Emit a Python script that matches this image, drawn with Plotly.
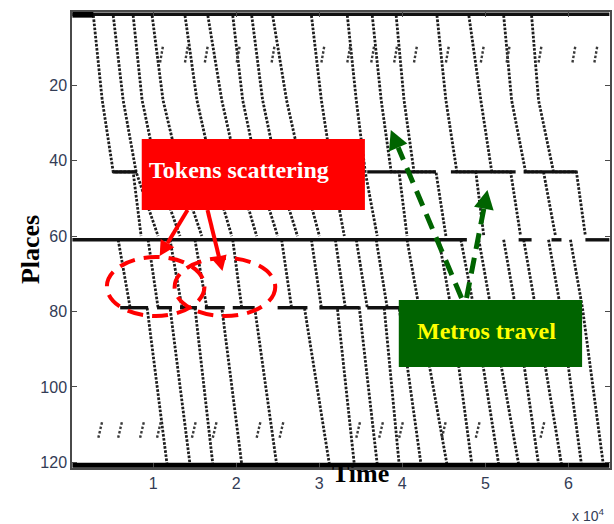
import plotly.graph_objects as go

# Time axis is in units of 10^4 (as printed by the "x 10^4" multiplier)

# Trains on the first line section: places 1 -> 60, dwell at station place 43
up_places = [1.5, 24, 43, 43, 60]
up_times = [
    [0.281, 0.388, 0.520, 0.760, 0.856],
    [0.520, 0.640, 0.796, 0.796, 1.060],
    [0.760, 0.868, 1.048, 1.048, 1.324],
    [0.988, 1.120, 1.324, 1.324, 1.587],
    [1.384, 1.528, 1.719, 1.719, 1.947],
    [1.659, 1.827, 2.019, 2.019, 2.247],
    [1.959, 2.079, 2.259, 2.259, 2.499],
    [2.187, 2.319, 2.499, 2.499, 2.738],
    [2.439, 2.607, 2.798, 2.798, 3.002],
    [2.906, 3.026, 3.158, 3.158, 3.302],
    [3.338, 3.446, 3.554, 3.554, 3.698],
    [3.638, 3.746, 3.866, 3.961, 4.057],
    [3.926, 4.021, 4.141, 4.405, 4.525],
    [4.417, 4.525, 4.657, 4.885, 4.981],
    [4.801, 4.945, 5.077, 5.304, 5.424],
    [5.220, 5.316, 5.484, 5.700, 5.844],
    [5.556, 5.640, 5.820, 6.096, 6.204],
]

# Trains on the second line section: places 61 -> 120, dwell at station place 79
down_places = [61, 79, 79, 120.5]
down_times = [
    [0.580, 0.724, 0.928, 1.168],
    [0.940, 1.060, 1.204, 1.444],
    [1.204, 1.348, 1.504, 1.719],
    [1.504, 1.647, 1.827, 2.067],
    [1.959, 2.067, 2.223, 2.487],
    [2.547, 2.667, 2.822, 3.122],
    [2.906, 3.026, 3.218, 3.422],
    [3.194, 3.314, 3.482, 3.698],
    [3.446, 3.578, 3.782, 3.962],
    [3.686, 3.818, 3.962, 4.225],
    [4.057, 4.201, 4.201, 4.537],
    [4.441, 4.585, 4.585, 4.837],
    [4.705, 4.861, 4.861, 5.160],
    [4.921, 5.065, 5.065, 5.400],
    [5.220, 5.364, 5.364, 5.640],
    [5.461, 5.604, 5.604, 5.916],
    [5.760, 5.904, 5.904, 6.156],
    [6.024, 6.168, 6.168, 6.419],
]

# Token queues held in a place over an interval: (place, start, end)
queues = [
    (43, 0.520, 0.808), (43, 3.578, 4.405), (43, 4.585, 5.364), (43, 5.460, 6.096),
    (79, 0.604, 0.940), (79, 1.048, 1.228), (79, 1.324, 1.528), (79, 1.623, 1.863),
    (79, 1.959, 2.223), (79, 2.499, 2.858), (79, 3.002, 3.482), (79, 3.578, 3.961),
    (61, 0.029, 4.777), (61, 5.400, 5.556), (61, 5.796, 5.916), (61, 6.204, 6.492),
    (1.2, 0.029, 6.492),
]
depot_start = (1.3, 0.029, 0.281)
depot_end = (120.8, 0.029, 6.492)

# Short token bursts near places 9-14 and 109-114
top_burst_low = [1.084, 1.384, 1.623, 2.007, 2.427, 3.026, 3.338, 3.626, 3.902,
                 4.141, 4.525, 4.945, 5.256, 5.640, 6.048, 6.312]
top_burst_high = [1.120, 1.420, 1.659, 2.043, 2.463, 3.062, 3.374, 3.662, 3.938,
                  4.177, 4.561, 4.981, 5.292, 5.676, 6.084, 6.348]
top_burst_places = [14, 9.5]
bot_burst_low = [0.341, 0.580, 0.844, 1.048, 1.468, 1.719, 2.247, 2.523, 3.446,
                 3.722, 3.962, 4.477, 4.885, 5.664]
bot_burst_high = [0.389, 0.628, 0.892, 1.096, 1.516, 1.767, 2.295, 2.571, 3.494,
                  3.770, 4.010, 4.525, 4.933, 5.712]
bot_burst_places = [113.5, 109]

x_ticks = [1, 2, 3, 4, 5, 6]
y_ticks = [20, 40, 60, 80, 100, 120]

INK = "#1e1e1e"
TICK_COLOR = "#333c55"
SERIF = "Liberation Serif, Times New Roman, serif"
SANS = "Liberation Sans, Arial, sans-serif"
RED = "#ff0000"
GREEN = "#006400"

# plot area in pixels (left, top, right, bottom) for placing the callouts
AREA = (72, 12, 612, 468)


def to_paper(x, y):
    return ((x - AREA[0]) / (AREA[2] - AREA[0]), (AREA[3] - y) / (AREA[3] - AREA[1]))


def join_paths(paths_x, paths_y):
    xs, ys = [], []
    for px, py in zip(paths_x, paths_y):
        xs += list(px) + [None]
        ys += list(py) + [None]
    return xs, ys


fig = go.Figure()

# Train trajectories (dotted token traces)
tx, ty = join_paths(up_times + down_times,
                    [up_places] * len(up_times) + [down_places] * len(down_times))
fig.add_trace(go.Scatter(x=tx, y=ty, mode="lines",
                         line=dict(color=INK, width=2.8, dash="2.6px,1.5px"),
                         hoverinfo="skip", showlegend=False))

# Short bursts
bx, by = join_paths([[a, b] for a, b in zip(top_burst_low, top_burst_high)] +
                    [[a, b] for a, b in zip(bot_burst_low, bot_burst_high)],
                    [top_burst_places] * len(top_burst_low) +
                    [bot_burst_places] * len(bot_burst_low))
fig.add_trace(go.Scatter(x=bx, y=by, mode="lines",
                         line=dict(color="#3a3a3a", width=2.4, dash="2.5px,2px"),
                         hoverinfo="skip", showlegend=False))

# Queues
qx, qy = join_paths([[q[1], q[2]] for q in queues], [[q[0], q[0]] for q in queues])
fig.add_trace(go.Scatter(x=qx, y=qy, mode="lines",
                         line=dict(color="#111111", width=3.4),
                         hoverinfo="skip", showlegend=False))
for place, t0, t1, w in [(*depot_start, 6), (*depot_end, 5)]:
    fig.add_trace(go.Scatter(x=[t0, t1], y=[place, place], mode="lines",
                             line=dict(color="#000000", width=w),
                             hoverinfo="skip", showlegend=False))

fig.update_xaxes(range=[0.024, 6.5], tickvals=x_ticks, ticktext=[str(v) for v in x_ticks],
                 showgrid=False, zeroline=False, showline=True, mirror="allticks",
                 linecolor="#4a4a4a", linewidth=1.5, ticks="inside", ticklen=5,
                 tickcolor="#4a4a4a", tickfont=dict(family=SANS, size=16, color=TICK_COLOR))
fig.update_yaxes(range=[121.5, 0.6], tickvals=y_ticks, ticktext=[str(v) for v in y_ticks],
                 showgrid=False, zeroline=False, showline=True, mirror="allticks",
                 linecolor="#4a4a4a", linewidth=1.5, ticks="inside", ticklen=5,
                 tickcolor="#4a4a4a", tickfont=dict(family=SANS, size=16, color=TICK_COLOR))


def rect(x0, y0, x1, y1, color):
    (a, b), (c, d) = to_paper(x0, y1), to_paper(x1, y0)
    return dict(type="rect", xref="paper", yref="paper", x0=a, y0=b, x1=c, y1=d,
                fillcolor=color, line=dict(width=0))


def ellipse(x0, y0, x1, y1, color):
    (a, b), (c, d) = to_paper(x0, y1), to_paper(x1, y0)
    return dict(type="circle", xref="paper", yref="paper", x0=a, y0=b, x1=c, y1=d,
                line=dict(color=color, width=4, dash="16px,9px"))


def arrow(start, tip, color, width, head_len, head_half, dash=None):
    dx, dy = tip[0] - start[0], tip[1] - start[1]
    n = (dx * dx + dy * dy) ** 0.5
    ux, uy = dx / n, dy / n
    bx_, by_ = tip[0] - head_len * ux, tip[1] - head_len * uy
    c1 = (bx_ - head_half * uy, by_ + head_half * ux)
    c2 = (bx_ + head_half * uy, by_ - head_half * ux)
    s = to_paper(*start)
    b = to_paper(bx_, by_)
    shaft = dict(type="line", xref="paper", yref="paper", x0=s[0], y0=s[1], x1=b[0], y1=b[1],
                 line=dict(color=color, width=width, dash=dash or "solid"))
    pts = [to_paper(*tip), to_paper(*c1), to_paper(*c2)]
    head = dict(type="path", xref="paper", yref="paper",
                path="M {:.4f},{:.4f} L {:.4f},{:.4f} L {:.4f},{:.4f} Z".format(
                    pts[0][0], pts[0][1], pts[1][0], pts[1][1], pts[2][0], pts[2][1]),
                fillcolor=color, line=dict(width=0))
    return [shaft, head]


shapes = [
    rect(142, 139, 366, 210, RED),
    rect(400, 300, 584, 367, GREEN),
    ellipse(107, 257, 205, 316, RED),
    ellipse(175, 258, 276, 316, RED),
]
shapes += arrow((188, 210), (160, 256), RED, 4, 15, 8)
shapes += arrow((208, 210), (223, 271), RED, 4, 15, 8)
shapes += arrow((463, 298), (392, 130), GREEN, 5, 19, 10, dash="16px,9px")
shapes += arrow((468, 298), (489, 190), GREEN, 5, 19, 10, dash="16px,9px")

tok = to_paper(240, 170)
met = to_paper(488, 331)
annotations = [
    dict(text="<b>Tokens scattering</b>", xref="paper", yref="paper", x=tok[0], y=tok[1],
         xanchor="center", yanchor="middle", showarrow=False,
         font=dict(family=SERIF, size=24, color="white")),
    dict(text="<b>Metros travel</b>", xref="paper", yref="paper", x=met[0], y=met[1],
         xanchor="center", yanchor="middle", showarrow=False,
         font=dict(family=SERIF, size=24, color="#ffff00")),
    dict(text="<b>Places</b>", xref="paper", yref="paper", x=-0.078, y=0.478, textangle=-90,
         xanchor="center", yanchor="middle", showarrow=False,
         font=dict(family=SERIF, size=26, color="black")),
    dict(text="<b>Time</b>", xref="paper", yref="paper", x=0.537, y=-0.013,
         xanchor="center", yanchor="middle", showarrow=False,
         font=dict(family=SERIF, size=26, color="black")),
    dict(text="x 10<sup>4</sup>", xref="paper", yref="paper", x=0.959, y=-0.103,
         xanchor="center", yanchor="middle", showarrow=False,
         font=dict(family=SANS, size=14, color=TICK_COLOR)),
]

fig.update_layout(width=614, height=524, margin=dict(l=72, r=2, t=12, b=56),
                  paper_bgcolor="white", plot_bgcolor="white",
                  shapes=shapes, annotations=annotations, showlegend=False)

fig.write_html("out.html")
